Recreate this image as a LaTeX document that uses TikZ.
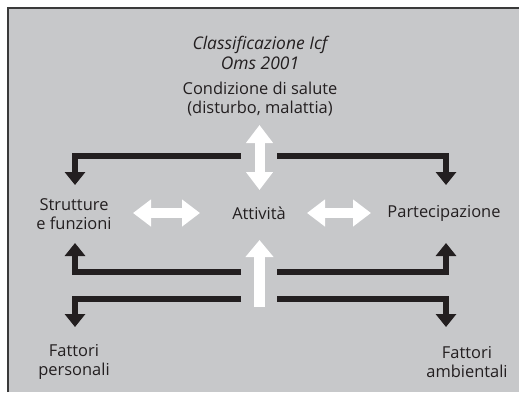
\documentclass[tikz,border=0pt]{standalone}
\usepackage{fontspec}
\setmainfont{Open Sans}
\usetikzlibrary{arrows.meta}
\definecolor{bg}{HTML}{C7C8CA}
\definecolor{ink}{HTML}{231F20}
\definecolor{frame}{HTML}{3A3A3A}
\tikzset{
  lbl/.style={text=ink, font=\fontsize{16.5}{19}\selectfont, align=center, inner sep=0pt},
  blk/.style={draw=ink, line width=5.5bp, -{Triangle[width=20bp,length=13bp]}},
  wht/.style={draw=white, line width=11bp, -{Triangle[width=27bp,length=17bp]}},
  whtd/.style={draw=white, line width=10bp, {Triangle[width=26bp,length=18bp]}-{Triangle[width=26bp,length=18bp]}},
}
\begin{document}
\begin{tikzpicture}[x=1bp,y=-1bp]
\useasboundingbox (0,0) rectangle (519,392);
\fill[bg] (8,8) rectangle (519,392);
\draw[frame, line width=2bp] (8,392) -- (8,8) -- (519,8);

\node[lbl, font=\fontsize{17.5}{20}\selectfont\itshape] (title) at (260,53) {Classificazione Icf\\Oms 2001};
\node[lbl] (cond) at (260,99.5) {Condizione di salute\\(disturbo, malattia)};
\node[lbl] (strut) at (74,214) {Strutture\\e funzioni};
\node[lbl] (att) at (259,213) {Attività};
\node[lbl] (part) at (444,213) {Partecipazione};
\node[lbl] (fp) at (74,362) {Fattori\\personali};
\node[lbl] (fa) at (467,362) {Fattori\\ambientali};

% white arrows
\coordinate (vt) at (259.5,125);
\coordinate (vb) at (259.5,190);
\draw[whtd] (vt) -- (vb);
\coordinate (hl1) at (133,213);
\coordinate (hl2) at (200,213);
\draw[whtd] (hl1) -- (hl2);
\coordinate (hr1) at (307,213);
\coordinate (hr2) at (371,213);
\draw[whtd] (hr1) -- (hr2);
\coordinate (ub) at (259.5,307);
\coordinate (ut) at (259.5,240);
\draw[wht] (ub) -- (ut);

% black arrows
\coordinate (t1) at (241,156);
\coordinate (t2) at (277,156);
\coordinate (tl) at (75,185);
\coordinate (tr) at (446,185);
\draw[blk] (t1) -| (tl);
\draw[blk] (t2) -| (tr);
\coordinate (m1) at (241,272);
\coordinate (m2) at (277,272);
\coordinate (ml) at (75,243);
\coordinate (mr) at (446,243);
\draw[blk] (m1) -| (ml);
\draw[blk] (m2) -| (mr);
\coordinate (b1) at (241,299);
\coordinate (b2) at (277,299);
\coordinate (bl) at (75,327);
\coordinate (br) at (446,327);
\draw[blk] (b1) -| (bl);
\draw[blk] (b2) -| (br);
\end{tikzpicture}
\end{document}
